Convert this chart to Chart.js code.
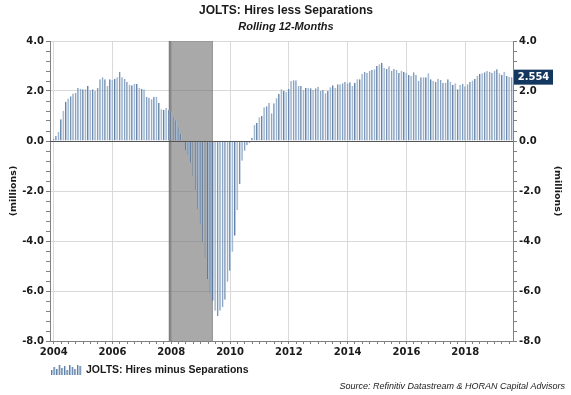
<!DOCTYPE html>
<html>
<head>
<meta charset="utf-8">
<script src="https://cdn.jsdelivr.net/npm/chart.js@4/dist/chart.umd.min.js"></script>
<style>
  html, body { margin: 0; padding: 0; background: #fff; }
  #wrap { width: 571px; height: 395px; }
</style>
</head>
<body>
<div id="wrap"><canvas id="jolts_chart" width="571" height="395"></canvas></div>
<script>
// monthly series, rolling 12-month hires less separations (millions), Dec 2003 .. Aug 2019
const startYear = 2003;
const startMonth = 12;
const hiresLessSeparations = [
    0.04, 0.10, 0.20, 0.37, 0.87, 1.21, 1.57, 1.70, 1.79, 1.90, 1.93, 2.12, 2.09,
    2.07, 2.07, 2.20, 2.03, 2.07, 2.00, 2.12, 2.47, 2.55, 2.47, 2.20, 2.47, 2.44,
    2.48, 2.55, 2.77, 2.55, 2.48, 2.37, 2.25, 2.23, 2.29, 2.29, 2.13, 2.09, 2.07,
    1.77, 1.73, 1.67, 1.77, 1.77, 1.53, 1.27, 1.24, 1.33, 1.24, 1.17, 0.97, 0.83,
    0.55, 0.28, -0.03, -0.37, -0.55, -0.87, -1.40, -1.96, -2.73, -3.33, -4.03, -4.69,
    -5.53, -6.10, -6.39, -6.79, -7.00, -6.79, -6.64, -6.35, -5.63, -5.19, -4.43, -3.79,
    -2.76, -1.72, -0.79, -0.39, -0.17, -0.09, 0.13, 0.64, 0.73, 0.95, 1.00, 1.35,
    1.39, 1.53, 1.11, 1.51, 1.71, 1.88, 2.07, 2.01, 1.97, 2.08, 2.40, 2.43, 2.43,
    2.20, 2.20, 2.04, 2.13, 2.13, 2.11, 2.04, 2.11, 2.17, 2.00, 2.04, 1.91, 2.01,
    2.15, 2.23, 2.13, 2.27, 2.27, 2.31, 2.37, 2.31, 2.35, 2.21, 2.33, 2.47, 2.47,
    2.68, 2.77, 2.73, 2.81, 2.84, 2.87, 3.00, 3.07, 3.13, 2.93, 2.89, 2.99, 2.81,
    2.88, 2.84, 2.72, 2.81, 2.77, 2.73, 2.64, 2.60, 2.75, 2.64, 2.41, 2.55, 2.55,
    2.55, 2.71, 2.47, 2.40, 2.36, 2.49, 2.44, 2.33, 2.33, 2.47, 2.37, 2.24, 2.31,
    2.07, 2.24, 2.29, 2.19, 2.27, 2.37, 2.42, 2.49, 2.60, 2.68, 2.71, 2.75, 2.80,
    2.77, 2.73, 2.80, 2.87, 2.71, 2.64, 2.77, 2.61, 2.56, 2.554
];
const tickYears = ['2004', '2006', '2008', '2010', '2012', '2014', '2016', '2018'];
const recession = ['2007-12', '2009-06'];

const months = hiresLessSeparations.map((v, i) => {
    const m = startMonth - 1 + i;
    const yr = startYear + Math.floor(m / 12);
    return yr + '-' + String((m % 12) + 1).padStart(2, '0');
});

const isMajorY = (v) => Math.abs(Math.round(v / 2) * 2 - v) < 1e-6;
const isYearTick = (i) => months[i] && months[i].endsWith('-01') && tickYears.includes(months[i].slice(0, 4));
const tickFont = { family: 'DejaVu Sans', size: 10, weight: 'bold' };
const txt = '#1a1a1a';

const overlay = {
    id: 'overlay',
    beforeDatasetsDraw(chart) {
        const { ctx, chartArea: a, scales: { x } } = chart;
        const x0 = x.getPixelForValue(months.indexOf(recession[0]));
        const x1 = x.getPixelForValue(months.indexOf(recession[1]));
        ctx.save();
        ctx.fillStyle = 'rgba(112,112,112,0.6)';
        ctx.fillRect(x0, a.top, x1 - x0, a.bottom - a.top);
        // darker edges
        ctx.fillStyle = 'rgba(80,80,80,0.45)';
        ctx.fillRect(x0, a.top, 2, a.bottom - a.top);
        ctx.fillStyle = 'rgba(80,80,80,0.25)';
        ctx.fillRect(x1 - 1, a.top, 1, a.bottom - a.top);
        ctx.restore();
    },
    afterDatasetsDraw(chart) {
        const { ctx, chartArea: a, scales: { y } } = chart;
        const y0 = Math.round(y.getPixelForValue(0)) + 0.5;
        ctx.save();
        ctx.strokeStyle = '#555';
        ctx.lineWidth = 1;
        ctx.beginPath();
        ctx.moveTo(a.left, y0);
        ctx.lineTo(a.right, y0);
        ctx.stroke();
        ctx.restore();
    },
    afterDraw(chart) {
        const { ctx, scales: { y } } = chart;
        ctx.save();
        ctx.fillStyle = txt;
        ctx.textAlign = 'center';
        ctx.textBaseline = 'middle';
        ctx.font = 'bold 12px "Liberation Sans"';
        ctx.fillText('JOLTS: Hires less Separations', 286, 11);
        ctx.font = 'italic bold 11px "Liberation Sans"';
        ctx.fillText('Rolling 12-Months', 286, 27);

        // last value box
        const last = hiresLessSeparations[hiresLessSeparations.length - 1];
        const ly = y.getPixelForValue(last);
        ctx.fillStyle = '#14375f';
        ctx.fillRect(514, ly - 7.5, 39, 15);
        ctx.fillStyle = '#fff';
        ctx.font = 'bold 10px "DejaVu Sans"';
        ctx.fillText(last.toFixed(3), 533.5, ly + 0.5);

        // legend
        const hs = [5, 8, 6, 10, 7, 9, 5, 10, 8, 6, 10, 9];
        hs.forEach((h, i) => {
            const bx = 51 + i * 2.6;
            ctx.fillStyle = '#a7bcd5';
            ctx.fillRect(bx, 375 - h, 1.8, h);
            ctx.fillStyle = '#4f729c';
            ctx.fillRect(bx, 375 - h, 0.8, h);
        });
        ctx.fillStyle = txt;
        ctx.textAlign = 'left';
        ctx.font = 'bold 10.5px "Liberation Sans"';
        ctx.fillText('JOLTS: Hires minus Separations', 86, 370);

        ctx.textAlign = 'right';
        ctx.font = 'italic 9px "Liberation Sans"';
        ctx.fillText('Source: Refinitiv Datastream & HORAN Capital Advisors', 565, 386);
        ctx.restore();
    }
};

const yScale = (position) => ({
    position: position,
    min: -8,
    max: 4,
    afterFit: (scale) => { scale.width = position === 'left' ? 50 : 58; },
    border: { color: '#808080' },
    grid: {
        drawOnChartArea: position === 'left',
        color: (c) => (c.tick && isMajorY(c.tick.value) && c.tick.value !== 0 && c.tick.value !== -8) ? '#d9d9d9' : 'rgba(0,0,0,0)',
        tickColor: '#808080',
        tickLength: 4,
    },
    ticks: {
        stepSize: 0.4,
        maxTicksLimit: 100,
        autoSkip: false,
        padding: 2,
        color: txt,
        font: tickFont,
        callback: (v) => isMajorY(v) ? Number(v).toFixed(1) : '',
    },
    title: {
        display: true,
        text: '(millions)',
        color: txt,
        font: { family: 'DejaVu Sans', size: 9.5, weight: 'bold' },
        padding: { top: 8, bottom: 0 },
    },
});

new Chart(document.getElementById('jolts_chart').getContext('2d'), {
    type: 'bar',
    data: {
        labels: months,
        datasets: [{
            label: 'JOLTS: Hires minus Separations',
            data: hiresLessSeparations,
            backgroundColor: '#a7bcd5',
            borderColor: '#4f729c',
            borderWidth: { left: 1, right: 0, top: 0, bottom: 0 },
            borderSkipped: false,
            barPercentage: 0.75,
            categoryPercentage: 1,
        }],
    },
    options: {
        responsive: false,
        animation: false,
        layout: { padding: { top: 41, bottom: 32, left: 0, right: 0 } },
        scales: {
            x: {
                afterFit: (scale) => { scale.height = 22; },
                border: { color: '#808080' },
                grid: {
                    offset: false,
                    color: (c) => isYearTick(c.index) ? '#d9d9d9' : 'rgba(0,0,0,0)',
                    tickColor: (c) => (months[c.index] && (Number(months[c.index].slice(5)) % 3 === 1)) ? '#808080' : 'rgba(0,0,0,0)',
                    tickLength: 3,
                },
                ticks: {
                    autoSkip: false,
                    maxRotation: 0,
                    minRotation: 0,
                    padding: 2,
                    color: txt,
                    font: tickFont,
                    callback: (v, i) => isYearTick(i) ? months[i].slice(0, 4) : '',
                },
            },
            y: yScale('left'),
            y2: yScale('right'),
        },
        plugins: {
            legend: { display: false },
            tooltip: { enabled: false },
        },
    },
    plugins: [overlay],
});
</script>
</body>
</html>
